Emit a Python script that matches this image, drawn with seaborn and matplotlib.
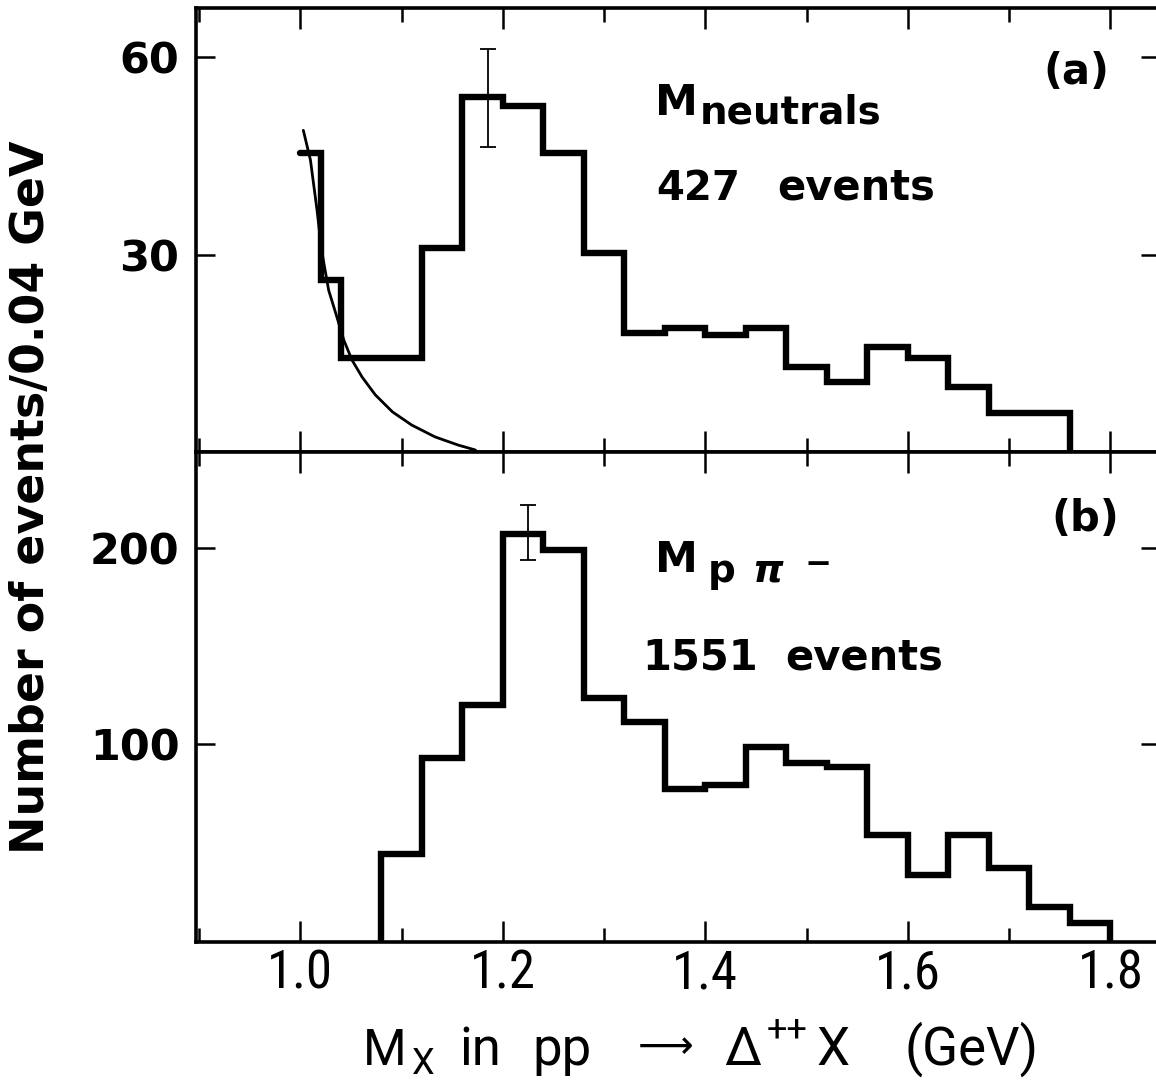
"""Two stacked mass histograms: M_neutrals and M_p pi- recoiling against Delta++."""

import matplotlib

matplotlib.use("Agg")

import matplotlib.pyplot as plt
import seaborn as sns
from matplotlib.ticker import MultipleLocator

W, H = 1156, 1084

# panel (a): M_neutrals, 427 events
edges_a = [1.00, 1.02, 1.04, 1.08, 1.12, 1.16, 1.20, 1.24, 1.28, 1.32, 1.36,
           1.40, 1.44, 1.48, 1.52, 1.56, 1.60, 1.64, 1.68, 1.72, 1.76]
counts_a = [45.4, 26.1, 14.3, 14.3, 31.0, 54.0, 52.6, 45.4, 30.2, 18.1,
            18.8, 17.8, 18.8, 12.9, 10.6, 16.0, 14.3, 9.9, 5.9, 5.9]
err_a_x, err_a_y, err_a_dy = 1.185, 53.8, 7.4

# smooth background curve drawn in panel (a)
curve_x = [1.003, 1.010, 1.0165, 1.021, 1.028, 1.035, 1.043, 1.051, 1.061,
           1.074, 1.091, 1.110, 1.133, 1.156, 1.173]
curve_y = [48.9, 44.4, 36.8, 30.7, 24.6, 21.1, 17.0, 14.0, 11.4,
           8.7, 6.1, 4.1, 2.3, 1.05, 0.3]

# panel (b): M_p pi-, 1551 events
edges_b = [1.08, 1.12, 1.16, 1.20, 1.24, 1.28, 1.32, 1.36, 1.40, 1.44,
           1.48, 1.52, 1.56, 1.60, 1.64, 1.68, 1.72, 1.76, 1.80]
counts_b = [44, 93, 120, 207, 199, 123.5, 111, 77, 79, 98.5,
            90.5, 88.5, 53.5, 33, 53.5, 37, 17, 8.5]
err_b_x, err_b_y, err_b_dy = 1.225, 208, 14

x_major = [1.0, 1.2, 1.4, 1.6, 1.8]
x_tick_labels = ["1.0", "1.2", "1.4", "1.6", "1.8"]
yticks_a = [30, 60]
yticks_b = [100, 200]

NARROW = ["Roboto Condensed", "Liberation Sans Narrow", "Roboto", "DejaVu Sans"]
PLAIN = ["Roboto", "DejaVu Sans"]


def fx(px):
    return px / W


def fy(py):
    return 1 - py / H


def step_points(edges, counts, rise_from_zero):
    """Outline of a histogram for a steps-post line, ending with a drop to zero."""
    xs = list(edges) + [edges[-1]]
    ys = list(counts) + [counts[-1], 0]
    if rise_from_zero:
        xs = [edges[0]] + xs
        ys = [0] + ys
    return xs, ys


sns.set_style("ticks")
plt.rcParams["font.family"] = ["DejaVu Sans"]
plt.rcParams.update({
    "text.color": "black",
    "axes.edgecolor": "black",
    "axes.labelcolor": "black",
    "xtick.color": "black",
    "ytick.color": "black",
    "mathtext.fontset": "dejavusans",
    "axes.linewidth": 2.6,
    "xtick.major.width": 1.8,
    "xtick.minor.width": 1.8,
    "ytick.major.width": 1.8,
})

fig = plt.figure(figsize=(W / 100, H / 100), dpi=100)
ax_a = fig.add_axes([fx(196), fy(452), (1160 - 196) / W, (452 - 8) / H])
ax_b = fig.add_axes([fx(196), fy(942), (1160 - 196) / W, (942 - 452) / H])

line_kws = dict(color="black", lw=4.6, drawstyle="steps-post",
                estimator=None, sort=False, solid_joinstyle="miter")

xs, ys = step_points(edges_a, counts_a, rise_from_zero=False)
sns.lineplot(x=xs, y=ys, ax=ax_a, **line_kws)
sns.lineplot(x=curve_x, y=curve_y, ax=ax_a, color="black", lw=2.0,
             estimator=None, sort=False)
ax_a.errorbar(err_a_x, err_a_y, yerr=err_a_dy, color="black", lw=1.3,
              capsize=5.5, capthick=1.3)

xs, ys = step_points(edges_b, counts_b, rise_from_zero=True)
sns.lineplot(x=xs, y=ys, ax=ax_b, **line_kws)
ax_b.errorbar(err_b_x, err_b_y, yerr=err_b_dy, color="black", lw=1.3,
              capsize=6, capthick=1.3)

ax_a.set_ylim(0, 67.5)
ax_b.set_ylim(-1, 249)
ax_a.set_yticks(yticks_a)
ax_b.set_yticks(yticks_b)

for ax in (ax_a, ax_b):
    ax.set_xlim(0.897, 1.849)
    ax.xaxis.set_major_locator(MultipleLocator(0.2))
    ax.xaxis.set_minor_locator(MultipleLocator(0.1))
    ax.tick_params(axis="both", which="both", direction="in",
                   top=True, right=True)
    ax.tick_params(axis="x", which="major", length=15)
    ax.tick_params(axis="x", which="minor", length=10)
    ax.tick_params(axis="y", which="major", length=14, pad=12,
                   labelsize=31)
    for lab in ax.get_yticklabels():
        lab.set_fontweight("bold")
    ax.set_xlabel("")
    ax.set_ylabel("")

ax_a.tick_params(axis="x", labelbottom=False)
ax_b.set_xticks(x_major)
ax_b.set_xticklabels(x_tick_labels)
ax_b.tick_params(axis="x", which="major", pad=5, labelsize=38)
for lab in ax_b.get_xticklabels():
    lab.set_family(NARROW)

# y axis title
fig.text(fx(32), fy(497), "Number of events/0.04 GeV", rotation=90,
         ha="center", va="center", size=33, weight="bold")

# x axis title, set piece by piece to keep the wide lettering of the original
xlabel_parts = [
    ("M", 363, 1065, 36),
    ("X", 412, 1074, 26),
    ("in", 459, 1065, 38),
    ("pp", 532, 1065, 38),
    (r"$\longrightarrow$", 630, 1056, 28),
    ("Δ", 724, 1065, 38),
    ("++", 767, 1040, 26),
    ("X", 816, 1065, 38),
    ("(GeV)", 905, 1065, 38),
]
for text, px, py, size in xlabel_parts:
    fig.text(fx(px), fy(py), text, size=size, family=PLAIN,
             ha="left", va="baseline")

# panel annotations
txt = dict(weight="bold", va="baseline", ha="left")
fig.text(fx(655), fy(115), "M", size=31, **txt)
fig.text(fx(700), fy(123), "neutrals", size=28, **txt)
fig.text(fx(656), fy(200), "427", size=29, **txt)
fig.text(fx(777), fy(200), "events", size=30, **txt)
fig.text(fx(1076), fy(72), "(a)", size=30, weight="bold",
         ha="center", va="center")

fig.text(fx(655), fy(572), "M", size=31, **txt)
fig.text(fx(708), fy(582), "p", size=28, **txt)
fig.text(fx(752), fy(582), "π", size=28, style="italic", **txt)
fig.text(fx(805), fy(577), "–", size=36, va="baseline", ha="left")
fig.text(fx(642), fy(670), "1551", size=30, **txt)
fig.text(fx(785), fy(670), "events", size=30, **txt)
fig.text(fx(1085), fy(519), "(b)", size=30, weight="bold",
         ha="center", va="center")

fig.savefig("out.png", dpi=100)
